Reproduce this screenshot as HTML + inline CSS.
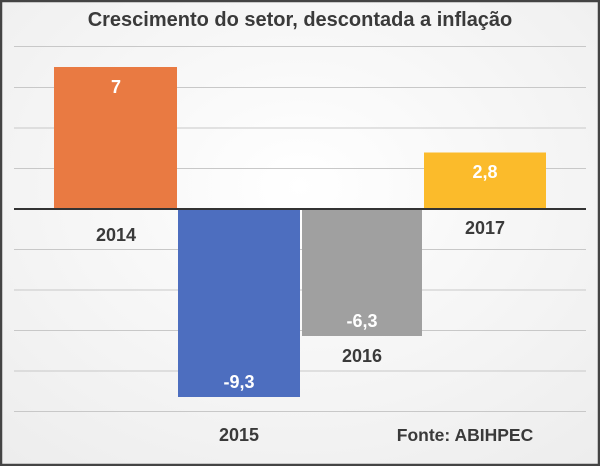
<!DOCTYPE html>
<html><head><meta charset="utf-8"><style>
html,body{margin:0;padding:0;}
body{width:600px;height:466px;overflow:hidden;}
</style></head><body>
<svg width="600" height="466" xmlns="http://www.w3.org/2000/svg" font-family="Liberation Sans, sans-serif">
<defs><radialGradient id="bg" cx="0.5" cy="0.4" r="0.8"><stop offset="0" stop-color="#ffffff"/><stop offset="1" stop-color="#ececec"/></radialGradient></defs>
<rect x="0" y="0" width="600" height="466" fill="url(#bg)"/>
<rect x="1" y="1" width="598" height="464" fill="none" stroke="#444" stroke-width="2.5"/>
<g stroke="#c8c8c8" stroke-width="1">
<line x1="14" x2="586" y1="46.5" y2="46.5"/>
<line x1="14" x2="586" y1="87.5" y2="87.5"/>
<line x1="14" x2="586" y1="128" y2="128"/>
<line x1="14" x2="586" y1="168.5" y2="168.5"/>
<line x1="14" x2="586" y1="249.5" y2="249.5"/>
<line x1="14" x2="586" y1="290" y2="290"/>
<line x1="14" x2="586" y1="330.5" y2="330.5"/>
<line x1="14" x2="586" y1="371" y2="371"/>
<line x1="14" x2="586" y1="411.5" y2="411.5"/>
</g>
<rect x="54" y="67" width="123" height="142" fill="#e97a42"/>
<rect x="178" y="209" width="122" height="188" fill="#4d6ebf"/>
<rect x="302" y="209" width="120" height="127" fill="#a0a0a0"/>
<rect x="424" y="152.5" width="122" height="56.5" fill="#fbbb2b"/>
<line x1="14" x2="586" y1="209" y2="209" stroke="#333" stroke-width="2"/>
<text x="300" y="26" text-anchor="middle" font-size="20" font-weight="bold" fill="#3a3a3a">Crescimento do setor, descontada a inflação</text>
<g font-size="18" font-weight="bold" fill="#fff" text-anchor="middle">
<text x="116" y="93">7</text>
<text x="239" y="388">-9,3</text>
<text x="362" y="327">-6,3</text>
<text x="485" y="178">2,8</text>
</g>
<g font-size="18" font-weight="bold" fill="#3a3a3a" text-anchor="middle">
<text x="116" y="241">2014</text>
<text x="239" y="441">2015</text>
<text x="362" y="362">2016</text>
<text x="485" y="234">2017</text>
</g>
<text x="465" y="441" text-anchor="middle" font-size="17.5" font-weight="bold" fill="#3a3a3a">Fonte: ABIHPEC</text>
</svg>
</body></html>
